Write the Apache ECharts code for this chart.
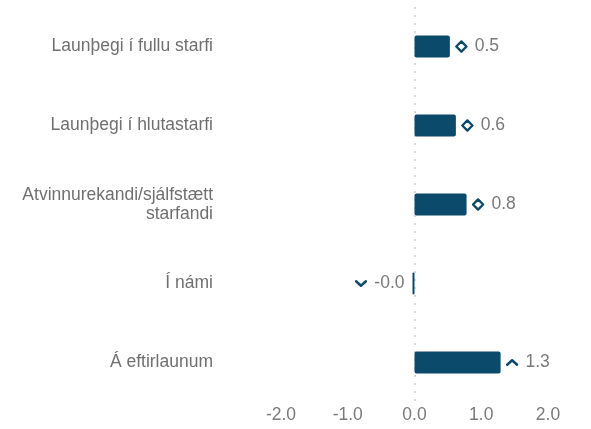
<!DOCTYPE html>
<html>
<head>
<meta charset="utf-8">
<script src="https://cdn.jsdelivr.net/npm/echarts@6/dist/echarts.min.js"></script>
<style>
  html, body { margin: 0; padding: 0; background: #fff; }
  #chart { width: 591px; height: 429px; }
</style>
</head>
<body>
<div id="chart"></div>
<script>
// Categories (top to bottom), change values and the trend marker shown next to each value
const categories = [
  'Launþegi í fullu starfi',
  'Launþegi í hlutastarfi',
  'Atvinnurekandi/sjálfstætt\nstarfandi',
  'Í námi',
  'Á eftirlaunum'
];
const values = [0.53, 0.62, 0.78, -0.03, 1.29];
const trends = ['diamond', 'diamond', 'diamond', 'down', 'up'];
const xTicks = [-2, -1, 0, 1, 2];

const ink = '#0b4a6b';
const svgIcon = (body) => 'data:image/svg+xml;utf8,' + encodeURIComponent(
  '<svg xmlns="http://www.w3.org/2000/svg" width="26" height="26" viewBox="0 0 10 10">' + body + '</svg>');
const iconImages = {
  diamond: svgIcon('<path d="M5 1.1 L8.9 5 L5 8.9 L1.1 5 Z" fill="none" stroke="' + ink + '" stroke-width="1.8" stroke-linejoin="round"/>'),
  down: svgIcon('<path d="M1.2 3.3 L5 6.7 L8.8 3.3" fill="none" stroke="' + ink + '" stroke-width="1.9" stroke-linecap="round" stroke-linejoin="round"/>'),
  up: svgIcon('<path d="M1.2 6.7 L5 3.3 L8.8 6.7" fill="none" stroke="' + ink + '" stroke-width="1.9" stroke-linecap="round" stroke-linejoin="round"/>')
};

const font = 'Liberation Sans, Arial, sans-serif';
const fontSize = 17.5;

const barData = values.map((v) => ({
  value: v,
  label: {
    position: v < 0 ? 'left' : 'right',
    distance: v < 0 ? 8 : 5
  }
}));

const rich = {
  val: { color: '#7a7a7a', fontSize: fontSize, fontFamily: font, padding: [0, 0, 0, 2] }
};
Object.keys(iconImages).forEach(k => {
  rich[k] = { width: 13, height: 13, backgroundColor: { image: iconImages[k] } };
});

// Only the zero line gets a visible (dotted) split line
const splitColors = xTicks.map(t => (t === 0 ? '#d9d9d9' : 'rgba(0,0,0,0)'));

const chart = echarts.init(document.getElementById('chart'), null, { renderer: 'canvas' });
chart.setOption({
  animation: false,
  grid: { left: 281, right: 43, top: 7, bottom: 27, containLabel: false },
  xAxis: {
    type: 'value',
    min: -2,
    max: 2,
    interval: 1,
    axisLine: { show: false },
    axisTick: { show: false },
    splitLine: {
      show: true,
      lineStyle: { color: splitColors, type: [2, 6], width: 2 }
    },
    axisLabel: {
      color: '#7a7a7a',
      fontSize: fontSize,
      fontFamily: font,
      margin: 4,
      formatter: v => v.toFixed(1)
    }
  },
  yAxis: {
    type: 'category',
    data: categories,
    inverse: true,
    axisLine: { show: false },
    axisTick: { show: false },
    axisLabel: {
      color: '#707070',
      fontSize: fontSize,
      fontFamily: font,
      margin: 68,
      align: 'right',
      lineHeight: 19
    }
  },
  series: [{
    type: 'bar',
    data: barData,
    barWidth: 22,
    itemStyle: { color: ink, borderRadius: 2 },
    label: {
      show: true,
      formatter: p => '{' + trends[p.dataIndex] + '|}{val| ' + p.value.toFixed(1) + '}',
      rich: rich
    }
  }]
});
</script>
</body>
</html>
